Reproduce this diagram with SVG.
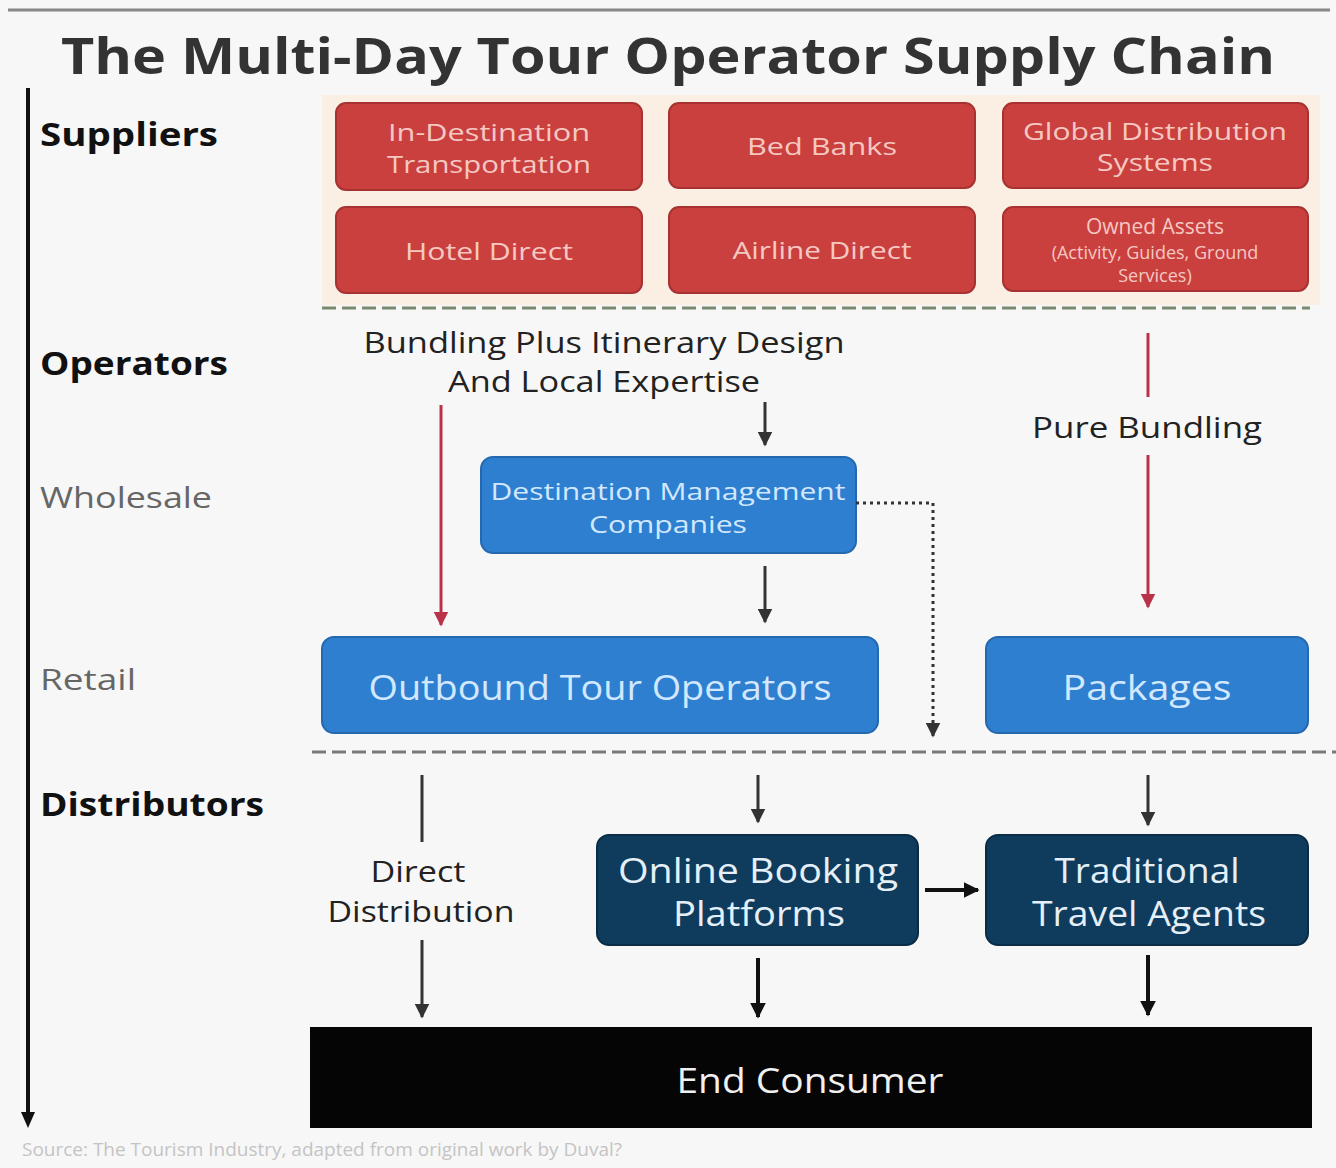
<svg xmlns="http://www.w3.org/2000/svg" width="1336" height="1168" viewBox="0 0 1336 1168">
<defs>
<marker id="ah" viewBox="0 0 10 10" refX="9" refY="5" markerWidth="5" markerHeight="5" orient="auto"><path d="M0,0 L10,5 L0,10 z" fill="#333"/></marker>
<marker id="ahr" viewBox="0 0 10 10" refX="9" refY="5" markerWidth="5" markerHeight="5" orient="auto"><path d="M0,0 L10,5 L0,10 z" fill="#b8334a"/></marker>
<marker id="ahk" viewBox="0 0 10 10" refX="9" refY="5" markerWidth="4" markerHeight="4" orient="auto"><path d="M0,0 L10,5 L0,10 z" fill="#111"/></marker>
</defs>
<style>
text{font-family:"Open Sans","Liberation Sans",sans-serif}
.title{font-size:50px;font-weight:700;fill:#333}
.lvl{font-size:32px;font-weight:700;fill:#111}
.sub{font-size:29px;fill:#666}
.sup rect{fill:#c9403f;stroke:#a83232;stroke-width:2}
.sup text{fill:#f6c8c2;font-size:24px;text-anchor:middle}
.op rect{fill:#2e7fd0;stroke:#2468b0;stroke-width:2}
.op text{fill:#d2e8ff;text-anchor:middle}
.dist rect{fill:#0f3b5c;stroke:#0a2c46;stroke-width:2}
.dist text{fill:#e4eff8;font-size:35px;text-anchor:middle}
.lbl{font-size:29px;fill:#222;text-anchor:middle}
.red{stroke:#b8334a;stroke-width:3;fill:none}
.blk{stroke:#333;stroke-width:3;fill:none}
</style>
<rect width="1336" height="1168" fill="#f7f7f7"/>
<line x1="8" y1="10" x2="1330" y2="10" stroke="#888" stroke-width="3"/>
<text class="title" x="668" y="74" text-anchor="middle" textLength="1214" lengthAdjust="spacingAndGlyphs">The Multi-Day Tour Operator Supply Chain</text>

<g id="axis">
<line x1="28" y1="88" x2="28" y2="1118" stroke="#111" stroke-width="4"/>
<path d="M21,1112 L28,1128 L35,1112 z" fill="#111"/>
</g>
<g id="levels">
<text class="lvl" x="40" y="146" textLength="178" lengthAdjust="spacingAndGlyphs">Suppliers</text>
<text class="lvl" x="40" y="375" textLength="188" lengthAdjust="spacingAndGlyphs">Operators</text>
<text class="sub" x="40" y="508" textLength="172" lengthAdjust="spacingAndGlyphs">Wholesale</text>
<text class="sub" x="40" y="690" textLength="96" lengthAdjust="spacingAndGlyphs">Retail</text>
<text class="lvl" x="40" y="816" textLength="224" lengthAdjust="spacingAndGlyphs">Distributors</text>
</g>

<rect x="322" y="95" width="998" height="210" fill="#fbefe4"/>
<line x1="322" y1="308" x2="1310" y2="308" stroke="#7a8a70" stroke-width="3" stroke-dasharray="14,6"/>

<g id="n-transport" class="sup"><rect x="336" y="103" width="306" height="87" rx="10"/><text x="489" y="141" textLength="202" lengthAdjust="spacingAndGlyphs">In-Destination</text><text x="489" y="173" textLength="204" lengthAdjust="spacingAndGlyphs">Transportation</text></g>
<g id="n-bedbanks" class="sup"><rect x="669" y="103" width="306" height="85" rx="10"/><text x="822" y="155" textLength="150" lengthAdjust="spacingAndGlyphs">Bed Banks</text></g>
<g id="n-gds" class="sup"><rect x="1003" y="103" width="305" height="85" rx="10"/><text x="1155" y="140" textLength="264" lengthAdjust="spacingAndGlyphs">Global Distribution</text><text x="1155" y="171" textLength="116" lengthAdjust="spacingAndGlyphs">Systems</text></g>
<g id="n-hotel" class="sup"><rect x="336" y="207" width="306" height="86" rx="10"/><text x="489" y="260" textLength="168" lengthAdjust="spacingAndGlyphs">Hotel Direct</text></g>
<g id="n-airline" class="sup"><rect x="669" y="207" width="306" height="86" rx="10"/><text x="822" y="259" textLength="179" lengthAdjust="spacingAndGlyphs">Airline Direct</text></g>
<g id="n-owned" class="sup"><rect x="1003" y="207" width="305" height="84" rx="10"/><text x="1155" y="234" style="font-size:21px">Owned Assets</text><text x="1155" y="259" style="font-size:18px">(Activity, Guides, Ground</text><text x="1155" y="282" style="font-size:18px">Services)</text></g>

<g id="labels">
<text class="lbl" x="604" y="353" textLength="481" lengthAdjust="spacingAndGlyphs">Bundling Plus Itinerary Design</text>
<text class="lbl" x="604" y="392" textLength="312" lengthAdjust="spacingAndGlyphs">And Local Expertise</text>
<text class="lbl" x="1147" y="438" textLength="230" lengthAdjust="spacingAndGlyphs">Pure Bundling</text>
<text class="lbl" x="418" y="882" textLength="95" lengthAdjust="spacingAndGlyphs">Direct</text>
<text class="lbl" x="421" y="922" textLength="187" lengthAdjust="spacingAndGlyphs">Distribution</text>
</g>

<g id="n-dmc" class="op"><rect x="481" y="457" width="375" height="96" rx="12"/><text x="668" y="500" font-size="24" textLength="355" lengthAdjust="spacingAndGlyphs">Destination Management</text><text x="668" y="533" font-size="24" textLength="158" lengthAdjust="spacingAndGlyphs">Companies</text></g>
<g id="n-outbound" class="op"><rect x="322" y="637" width="556" height="96" rx="12"/><text x="600" y="700" font-size="35" textLength="463" lengthAdjust="spacingAndGlyphs">Outbound Tour Operators</text></g>
<g id="n-packages" class="op"><rect x="986" y="637" width="322" height="96" rx="12"/><text x="1147" y="700" font-size="35" textLength="169" lengthAdjust="spacingAndGlyphs">Packages</text></g>

<line x1="312" y1="752" x2="1336" y2="752" stroke="#7a7a7a" stroke-width="3" stroke-dasharray="14,6"/>

<g id="n-online" class="dist"><rect x="597" y="835" width="321" height="110" rx="12"/><text x="758" y="883" textLength="280" lengthAdjust="spacingAndGlyphs">Online Booking</text><text x="759" y="926" textLength="172" lengthAdjust="spacingAndGlyphs">Platforms</text></g>
<g id="n-agents" class="dist"><rect x="986" y="835" width="322" height="110" rx="12"/><text x="1147" y="883" textLength="185" lengthAdjust="spacingAndGlyphs">Traditional</text><text x="1149" y="926" textLength="234" lengthAdjust="spacingAndGlyphs">Travel Agents</text></g>
<g id="n-consumer"><rect x="310" y="1027" width="1002" height="101" fill="#050505"/><text x="810" y="1093" font-size="34" fill="#f0f0f0" text-anchor="middle" textLength="267" lengthAdjust="spacingAndGlyphs">End Consumer</text></g>

<g id="connectors">
<line class="red" x1="441" y1="405" x2="441" y2="625" marker-end="url(#ahr)"/>
<line class="blk" x1="765" y1="402" x2="765" y2="445" marker-end="url(#ah)"/>
<line class="red" x1="1148" y1="333" x2="1148" y2="397"/>
<line class="red" x1="1148" y1="455" x2="1148" y2="607" marker-end="url(#ahr)"/>
<line class="blk" x1="765" y1="566" x2="765" y2="622" marker-end="url(#ah)"/>
<polyline points="856,503 933,503 933,736" fill="none" stroke="#333" stroke-width="3" stroke-dasharray="3,4" marker-end="url(#ah)"/>
<line class="blk" x1="422" y1="775" x2="422" y2="842"/>
<line class="blk" x1="422" y1="940" x2="422" y2="1017" marker-end="url(#ah)"/>
<line class="blk" x1="758" y1="775" x2="758" y2="822" marker-end="url(#ah)"/>
<line class="blk" x1="1148" y1="775" x2="1148" y2="825" marker-end="url(#ah)"/>
<line stroke="#111" stroke-width="4" x1="925" y1="890" x2="978" y2="890" marker-end="url(#ahk)"/>
<line stroke="#111" stroke-width="4" x1="758" y1="958" x2="758" y2="1017" marker-end="url(#ahk)"/>
<line stroke="#111" stroke-width="4" x1="1148" y1="955" x2="1148" y2="1015" marker-end="url(#ahk)"/>
</g>
<text x="22" y="1156" font-size="18" fill="#c4c4c4" textLength="600" lengthAdjust="spacingAndGlyphs">Source: The Tourism Industry, adapted from original work by Duval?</text>
</svg>
